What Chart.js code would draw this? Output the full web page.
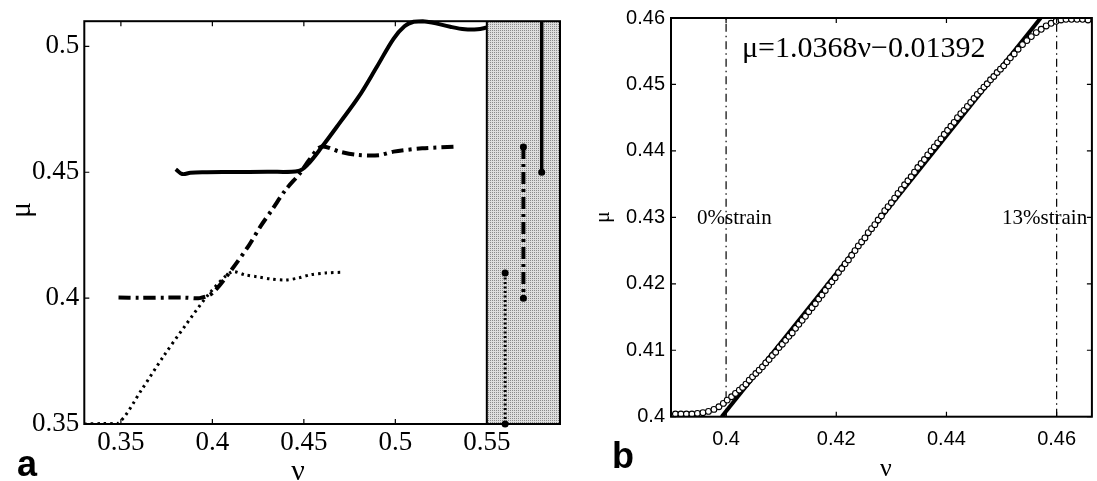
<!DOCTYPE html>
<html>
<head>
<meta charset="utf-8">
<script src="https://cdn.jsdelivr.net/npm/chart.js@4.4.1/dist/chart.umd.min.js"></script>
<style>
  html, body { margin: 0; padding: 0; background: #fff; }
  #wrap { position: relative; width: 1097px; height: 481px; overflow: hidden; }
  canvas { position: absolute; top: 0; }
  #chartA { left: 0; }
  #chartB { left: 570px; }
</style>
</head>
<body>
<div id="wrap">
  <canvas id="chartA" width="570" height="481"></canvas>
  <canvas id="chartB" width="527" height="481"></canvas>
</div>
<script>
// ---------- panel a ----------
const xTicksA = [0.35, 0.4, 0.45, 0.5, 0.55];
const yTicksA = [0.35, 0.4, 0.45, 0.5];
const shadeFrom = 0.55;
const shadeTo = 0.59;

// solid curve
const solidNu = [0.380, 0.3835, 0.388, 0.395, 0.410, 0.430, 0.447, 0.452, 0.460, 0.470, 0.480, 0.490, 0.499, 0.505, 0.510, 0.515, 0.520, 0.530, 0.538, 0.545, 0.550];
const solidMu = [0.4512, 0.4493, 0.4498, 0.4500, 0.4501, 0.4502, 0.4505, 0.4530, 0.4602, 0.4700, 0.4800, 0.4920, 0.5030, 0.5080, 0.5098, 0.5100, 0.5095, 0.5078, 0.5068, 0.5068, 0.5075];

// dash-dot curve
const dashNu = [0.3487, 0.360, 0.375, 0.385, 0.393, 0.400, 0.4105, 0.420, 0.4263, 0.433, 0.440, 0.4479, 0.453, 0.4596, 0.4695, 0.479, 0.4911, 0.499, 0.5147, 0.5333];
const dashMu = [0.4002, 0.4001, 0.4002, 0.4002, 0.4000, 0.4020, 0.4113, 0.4210, 0.4285, 0.4355, 0.4430, 0.4496, 0.4550, 0.4602, 0.4582, 0.4569, 0.4568, 0.4582, 0.4595, 0.4602];

// dotted curve
const dotNu = [0.330, 0.340, 0.3487, 0.3615, 0.3732, 0.385, 0.3985, 0.4105, 0.418, 0.4243, 0.432, 0.440, 0.447, 0.4537, 0.462, 0.4714];
const dotMu = [0.3500, 0.3502, 0.3503, 0.3638, 0.3768, 0.3889, 0.4020, 0.4104, 0.4092, 0.4085, 0.4076, 0.4072, 0.4080, 0.4093, 0.4100, 0.4103];

// ranges inside the shaded band
const solidBarNu = 0.58, solidBarMu = [0.51, 0.45];
const dashBarNu = 0.57, dashBarMu = [0.46, 0.40];
const dotBarNu = 0.56, dotBarMu = [0.41, 0.35];

// ---------- panel b ----------
const xTicksB = [0.4, 0.42, 0.44, 0.46];
const yTicksB = [0.4, 0.41, 0.42, 0.43, 0.44, 0.45, 0.46];
const strainNu = [0.4, 0.46];
const fitNu = [0.3992, 0.4571];
const fitMu = [0.4000, 0.4600];

const bNu = [0.3908,0.3918,0.3928,0.3938,0.3948,0.3958,0.3968,0.3978,0.3987,0.3995,0.4002,0.4010,0.4017,0.4024,
  0.4030,0.4036,0.4042,0.4048,0.4054,0.4060,0.4066,0.4072,0.4078,0.4084,0.4090,0.4096,0.4102,0.4108,0.4114,0.4120,
  0.4126,0.4132,0.4138,0.4144,0.4150,0.4156,0.4162,0.4168,0.4174,0.4180,0.4186,0.4192,0.4198,0.4204,0.4210,0.4216,
  0.4222,0.4228,0.4234,0.4240,0.4246,0.4252,0.4258,0.4264,0.4270,0.4276,0.4282,0.4288,0.4294,0.4300,0.4306,0.4312,
  0.4318,0.4324,0.4330,0.4336,0.4342,0.4348,0.4354,0.4360,0.4366,0.4372,0.4378,0.4384,0.4390,0.4396,0.4402,0.4408,
  0.4414,0.4420,0.4426,0.4432,0.4438,0.4444,0.4450,0.4456,0.4462,0.4468,0.4474,0.4480,0.4486,0.4492,0.4498,0.4504,
  0.4510,0.4516,0.4523,0.4530,0.4538,0.4546,0.4554,0.4563,0.4572,0.4581,0.4590,0.4599,0.4608,0.4617,0.4627,0.4637,
  0.4647,0.4657];
const bMu = [0.4004,0.4004,0.4004,0.4004,0.4005,0.4006,0.4008,0.4011,0.4015,0.4020,0.4025,0.4030,0.4035,0.4040,
  0.4044,0.4049,0.4055,0.4060,0.4065,0.4070,0.4075,0.4081,0.4086,0.4092,0.4097,0.4104,0.4109,0.4115,0.4121,0.4126,
  0.4133,0.4139,0.4145,0.4151,0.4158,0.4164,0.4170,0.4177,0.4183,0.4190,0.4197,0.4203,0.4209,0.4217,0.4223,0.4230,
  0.4236,0.4243,0.4250,0.4257,0.4263,0.4269,0.4277,0.4283,0.4289,0.4296,0.4302,0.4310,0.4316,0.4322,0.4329,0.4336,
  0.4342,0.4349,0.4355,0.4361,0.4368,0.4375,0.4381,0.4387,0.4394,0.4400,0.4406,0.4412,0.4418,0.4425,0.4431,0.4437,
  0.4443,0.4450,0.4456,0.4461,0.4467,0.4473,0.4479,0.4485,0.4490,0.4496,0.4501,0.4507,0.4512,0.4518,0.4523,0.4528,
  0.4534,0.4540,0.4546,0.4553,0.4560,0.4566,0.4572,0.4578,0.4583,0.4588,0.4592,0.4595,0.4597,0.4598,0.4598,0.4598,
  0.4598,0.4597];

function pts(xs, ys) {
  return xs.map((v, i) => ({ x: v, y: ys[i] }));
}
function bar(nu, mus) {
  return mus.map(m => ({ x: nu, y: m }));
}

// box + inward ticks
const boxTicks = {
  id: "boxTicks",
  afterDraw(chart, args, opts) {
    const { ctx, chartArea: a, scales: { x, y } } = chart;
    const len = opts.len;
    ctx.save();
    ctx.strokeStyle = "#000";
    ctx.lineWidth = 1.2;
    ctx.beginPath();
    x.ticks.forEach(t => {
      const px = x.getPixelForValue(t.value);
      ctx.moveTo(px, a.bottom); ctx.lineTo(px, a.bottom - len);
      ctx.moveTo(px, a.top); ctx.lineTo(px, a.top + len);
    });
    y.ticks.forEach(t => {
      const py = y.getPixelForValue(t.value);
      ctx.moveTo(a.left, py); ctx.lineTo(a.left + len, py);
      if (opts.right) { ctx.moveTo(a.right, py); ctx.lineTo(a.right - len, py); }
    });
    ctx.stroke();
    ctx.lineWidth = 2;
    ctx.strokeRect(a.left, a.top, a.right - a.left, a.bottom - a.top);
    ctx.restore();
  }
};

// stippled band on panel a
const band = {
  id: "band",
  beforeDatasetsDraw(chart) {
    const { ctx, chartArea: a, scales: { x } } = chart;
    const p = document.createElement("canvas");
    p.width = 2; p.height = 2;
    const pc = p.getContext("2d");
    pc.fillStyle = "#dedede"; pc.fillRect(0, 0, 2, 2);
    pc.fillStyle = "#8a8a8a"; pc.fillRect(0, 0, 1, 1);
    const x0 = x.getPixelForValue(shadeFrom), x1 = x.getPixelForValue(shadeTo);
    ctx.save();
    ctx.fillStyle = ctx.createPattern(p, "repeat");
    ctx.fillRect(x0, a.top, x1 - x0, a.bottom - a.top);
    ctx.strokeStyle = "#000"; ctx.lineWidth = 2;
    ctx.beginPath(); ctx.moveTo(x0, a.top); ctx.lineTo(x0, a.bottom); ctx.stroke();
    ctx.restore();
  }
};

// free texts (labels) in canvas pixels
const texts = {
  id: "texts",
  afterDraw(chart, args, opts) {
    const ctx = chart.ctx;
    ctx.save();
    ctx.fillStyle = "#000";
    opts.items.forEach(it => {
      ctx.font = it.font;
      ctx.textAlign = it.align || "left";
      ctx.textBaseline = it.base || "alphabetic";
      if (it.rot) {
        ctx.save();
        ctx.translate(it.x, it.y);
        ctx.rotate(-Math.PI / 2);
        ctx.fillText(it.text, 0, 0);
        ctx.restore();
      } else {
        ctx.fillText(it.text, it.x, it.y);
      }
    });
    ctx.restore();
  }
};

function axis(min, max, ticks, font, pad, fit) {
  return {
    type: "linear", min, max,
    afterBuildTicks: s => { s.ticks = ticks.map(v => ({ value: v })); },
    afterFit: fit,
    grid: { display: false, drawTicks: false },
    border: { display: false },
    ticks: { color: "#000", font, padding: pad, autoSkip: false, maxRotation: 0, callback: v => String(v) }
  };
}

const serifA = { family: "Liberation Serif", size: 27 };
const black = "#000";

new Chart(document.getElementById("chartA"), {
  type: "scatter",
  data: {
    datasets: [
      { data: pts(solidNu, solidMu), showLine: true, borderColor: black, borderWidth: 4, pointRadius: 0, tension: 0.35, clip: 4 },
      { data: pts(dashNu, dashMu), showLine: true, borderColor: black, borderWidth: 4, borderDash: [12, 5, 3, 5], pointRadius: 0, tension: 0.3 },
      { data: pts(dotNu, dotMu), showLine: true, borderColor: black, borderWidth: 3, borderDash: [2.5, 4], pointRadius: 0, tension: 0.3 },
      { data: bar(solidBarNu, solidBarMu), showLine: true, borderColor: black, borderWidth: 3.5, pointRadius: [0, 3.5], backgroundColor: black, pointBorderWidth: 0, clip: 4 },
      { data: bar(dashBarNu, dashBarMu), showLine: true, borderColor: black, borderWidth: 4, borderDash: [12, 5, 3, 5], pointRadius: 3.5, backgroundColor: black, pointBorderWidth: 0 },
      { data: bar(dotBarNu, dotBarMu), showLine: true, borderColor: black, borderWidth: 3, borderDash: [2, 2.5], pointRadius: 3.5, backgroundColor: black, pointBorderWidth: 0, clip: 4 }
    ]
  },
  options: {
    responsive: false,
    animation: false,
    events: [],
    layout: { padding: { top: 20, right: 10, left: 0, bottom: 0 } },
    plugins: {
      legend: { display: false },
      tooltip: { enabled: false },
      boxTicks: { len: 5, right: false },
      texts: {
        items: [
          { text: "a", x: 17, y: 476, font: "bold 36px 'Liberation Sans'" },
          { text: "ν", x: 298, y: 480, font: "30px 'Liberation Serif'", align: "center" },
          { text: "μ", x: 30, y: 210, font: "30px 'Liberation Serif'", align: "center", rot: true }
        ]
      }
    },
    scales: {
      x: axis(0.33, 0.59, xTicksA, serifA, 3, s => { s.height = 57; }),
      y: axis(0.35, 0.51, yTicksA, serifA, 5, s => { s.width = 84.3; })
    }
  },
  plugins: [band, boxTicks, texts]
});

const sansB = { family: "Liberation Sans", size: 20 };

new Chart(document.getElementById("chartB"), {
  type: "scatter",
  data: {
    datasets: [
      { data: pts(bNu, bMu), showLine: false, pointRadius: 2.9, pointBorderWidth: 1.1, borderColor: black, backgroundColor: "#fff", order: 0 },
      { data: pts(fitNu, fitMu), showLine: true, borderColor: black, borderWidth: 4, pointRadius: 0, order: 1 },
      { data: bar(strainNu[0], [0.40, 0.46]), showLine: true, borderColor: black, borderWidth: 1.2, borderDash: [8, 4, 1.5, 4], pointRadius: 0, order: 2 },
      { data: bar(strainNu[1], [0.40, 0.46]), showLine: true, borderColor: black, borderWidth: 1.2, borderDash: [8, 4, 1.5, 4], pointRadius: 0, order: 2 }
    ]
  },
  options: {
    responsive: false,
    animation: false,
    events: [],
    layout: { padding: { top: 14.5, right: 1, left: 0, bottom: 0 } },
    plugins: {
      legend: { display: false },
      tooltip: { enabled: false },
      boxTicks: { len: 5, right: true },
      texts: {
        items: [
          { text: "b", x: 42, y: 468, font: "bold 36px 'Liberation Sans'" },
          { text: "ν", x: 316, y: 476, font: "26px 'Liberation Serif'", align: "center" },
          { text: "μ", x: 39, y: 217, font: "22px 'Liberation Serif'", align: "center", rot: true },
          { text: "μ=1.0368ν−0.01392", x: 172, y: 57, font: "30px 'Liberation Serif'" },
          { text: "0%strain", x: 127, y: 224, font: "21px 'Liberation Serif'" },
          { text: "13%strain", x: 432, y: 224, font: "21px 'Liberation Serif'" }
        ]
      }
    },
    scales: {
      x: axis(0.39, 0.4664, xTicksB, sansB, 11, s => { s.height = 64.3; }),
      y: axis(0.4, 0.46, yTicksB, sansB, 6, s => { s.width = 101; })
    }
  },
  plugins: [boxTicks, texts]
});
</script>
</body>
</html>
